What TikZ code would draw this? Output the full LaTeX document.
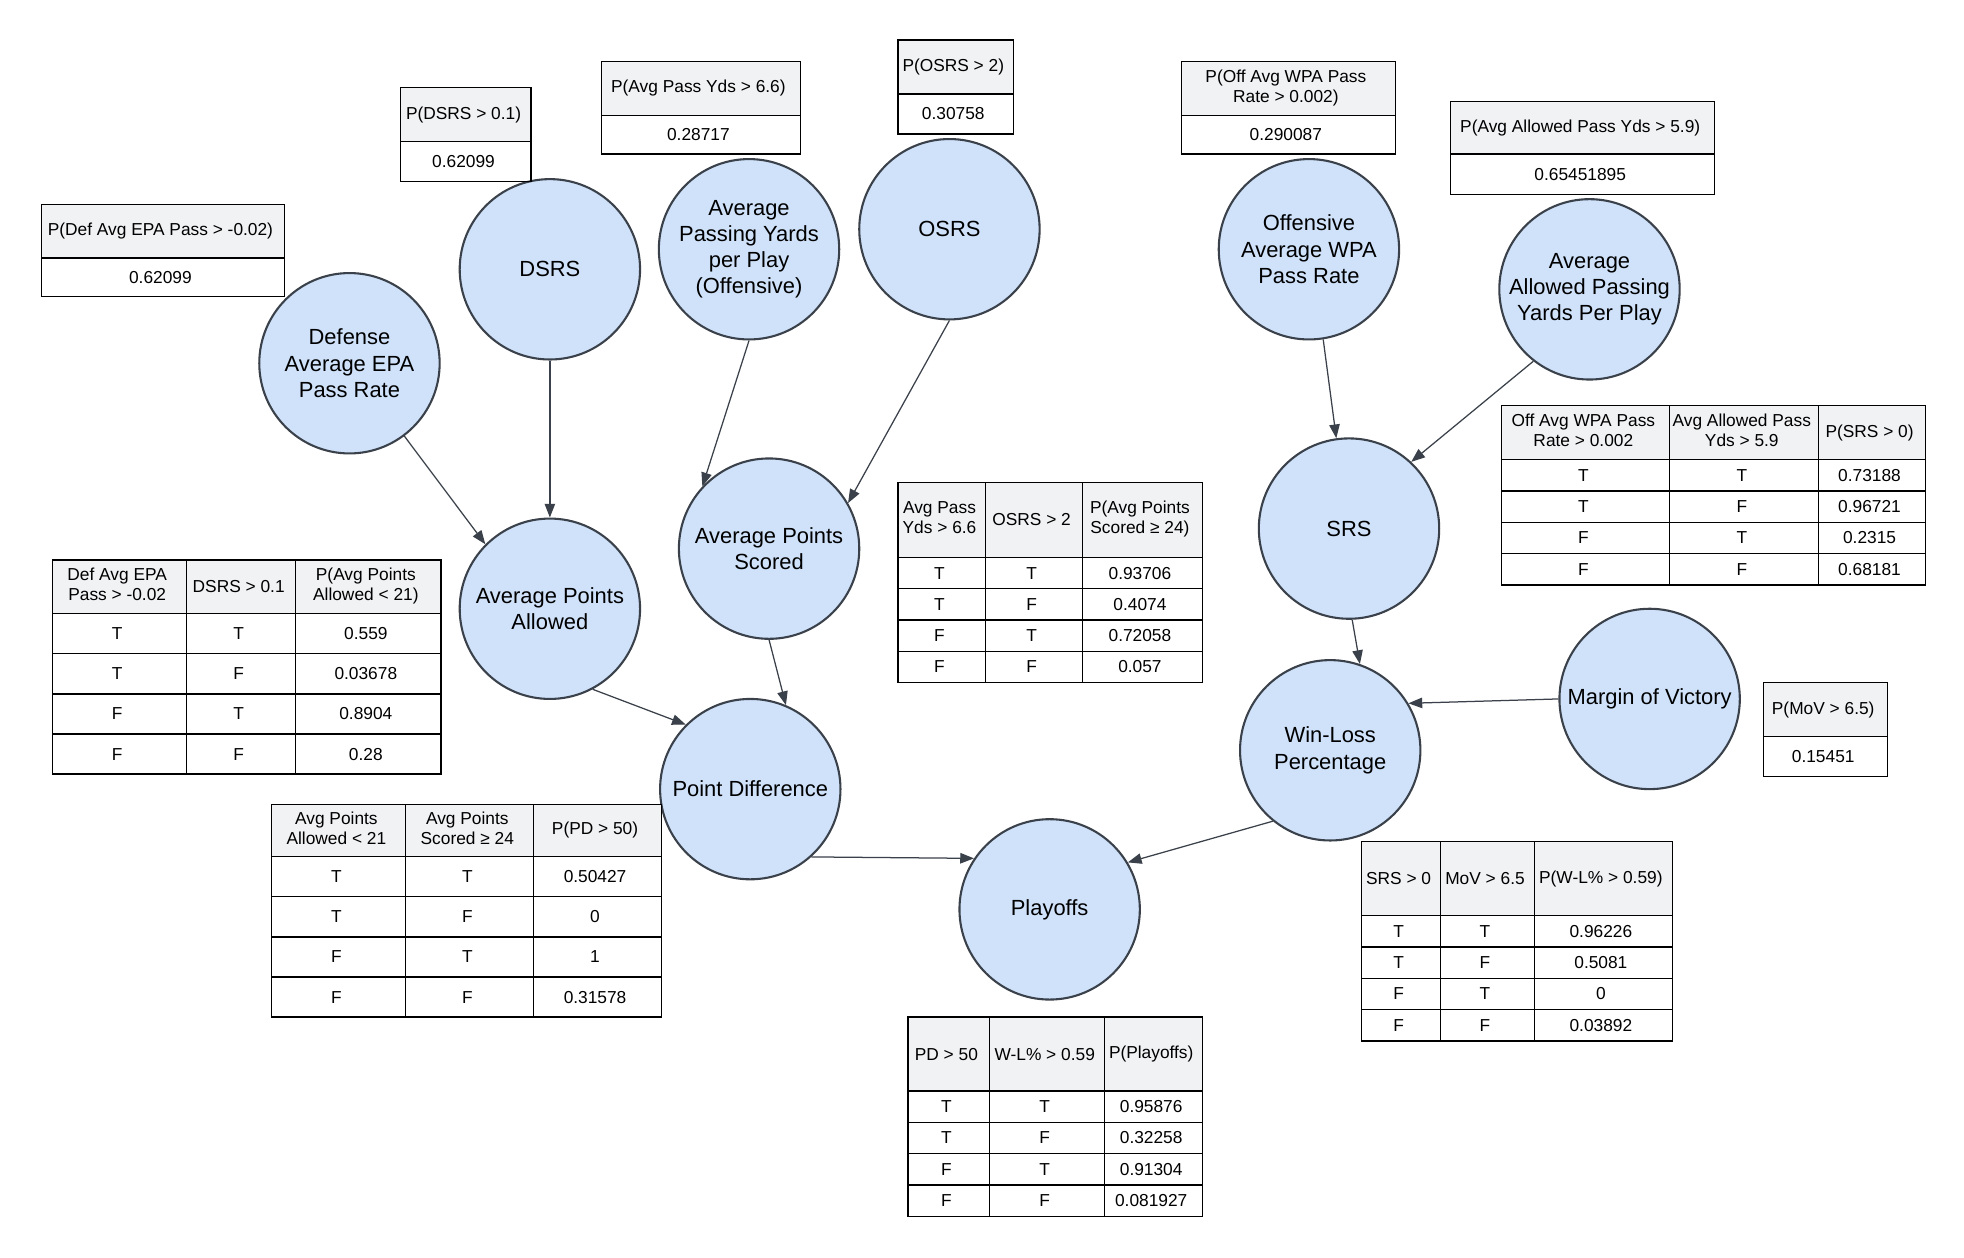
\documentclass[tikz,border=0pt]{standalone}
\usepackage{fontspec}
\setmainfont{Liberation Sans}
\usepackage{tikz}
\usetikzlibrary{shapes}
\usetikzlibrary{arrows.meta}
\usetikzlibrary{matrix}
\newcommand \upx {0.6pt}
\newcommand \cptfont {\fontsize{8.3}{9.6}\selectfont}
\newcommand \rvfont {\fontsize{10.5}{12.6}\selectfont}
\newcommand \twolines [2] {\begin{tabular}{@{}c@{}}#1\\#2\end{tabular}}
\definecolor{rvfill}{HTML}{CFE2FA}
\definecolor{rvline}{HTML}{3A414A}
\definecolor{hdr}{HTML}{F1F2F4}
\tikzstyle{RV}=[circle,draw=rvline,fill=rvfill,line width=1pt,inner sep=0mm,minimum size=144*\upx,align=center,font=\rvfont]
\tikzstyle{cpt}=[matrix of nodes,anchor=north west,inner sep=0pt,row sep=-\pgflinewidth,column sep=-\pgflinewidth,nodes={draw=black,anchor=center,inner sep=1pt,align=center,font=\cptfont,minimum height=25*\upx}]
\tikzstyle{arrow}=[->,>={Triangle[length=6.6pt,width=5pt]},draw=rvline]
\tikzset{hrow/.style={row 1/.style={nodes={fill=hdr,minimum height=#1*\upx}}}}
\tikzset{cols/.style n args={3}{column 1/.style={nodes={minimum width=#1*\upx}},column 2/.style={nodes={minimum width=#2*\upx}},column 3/.style={nodes={minimum width=#3*\upx}}}}
\tikzset{every picture/.style={
    line width=0.6pt
  }
}
\begin{document}
\begin{tikzpicture}[x=\upx,y=-\upx]
          \useasboundingbox (0,0) rectangle (1568,1004);
          \node[RV] at (279,290) (dep) {Defense\\Average EPA\\Pass Rate};
          \node[RV] at (439,215) (dsrs) {DSRS};
          \node[RV] at (598,199) (ypp) {Average\\Passing Yards\\per Play\\(Offensive)};
          \node[RV] at (758,183) (osrs) {OSRS};
          \node[RV] at (439,486) (apa) {Average Points\\Allowed};
          \node[RV] at (614,438) (aps) {Average Points\\Scored};
          \node[RV] at (599,630) (pd) {Point Difference};
          \node[RV] at (838,726) (po) {Playoffs};
          \node[RV] at (1045,199) (wpa) {Offensive\\Average WPA\\Pass Rate};
          \node[RV] at (1269,231) (apy) {Average\\Allowed Passing\\Yards Per Play};
          \node[RV] at (1077,422) (srs) {SRS};
          \node[RV] at (1062,599) (wl) {Win-Loss\\Percentage};
          \node[RV] at (1317,558) (mov) {Margin of Victory};
          \draw[arrow] (dep.-53)--(apa.135);
          \draw[arrow] (dsrs)--(apa);
          \draw[arrow] (ypp.south)--(aps.137);
          \draw[arrow] (osrs.south)--(aps.30);
          \draw[arrow] (apa.-62)--(pd.135);
          \draw[arrow] (aps.south)--(pd.67);
          \draw[arrow] (pd.-48)--(po.146);
          \draw[arrow] (wl.-129)--(po.31);
          \draw[arrow] (wpa.-81)--(srs.98);
          \draw[arrow] (apy.-128)--(srs.47);
          \draw[arrow] (srs.-88)--(wl.71);
          \draw[arrow] (mov.west)--(wl.31);
          \matrix[cpt,hrow=43,nodes={minimum height=31*\upx,minimum width=194*\upx}] (tdep) at (32,162) {
            P(Def Avg EPA Pass > -0.02) \\
            0.62099 \\
          };
          \matrix[cpt,hrow=43,nodes={minimum height=32*\upx,minimum width=104*\upx}] (tdsrs) at (319,69) {
            P(DSRS > 0.1) \\
            0.62099 \\
          };
          \matrix[cpt,hrow=43,nodes={minimum height=31*\upx,minimum width=159*\upx}] (typp) at (479,48) {
            P(Avg Pass Yds > 6.6) \\
            0.28717 \\
          };
          \matrix[cpt,hrow=43,nodes={minimum height=32*\upx,minimum width=92*\upx}] (tosrs) at (716,31) {
            P(OSRS > 2) \\
            0.30758 \\
          };
          \matrix[cpt,hrow=43,nodes={minimum height=31*\upx,minimum width=171*\upx}] (twpa) at (942,48) {
            \twolines{P(Off Avg WPA Pass}{Rate > 0.002)} \\
            0.290087 \\
          };
          \matrix[cpt,hrow=42,nodes={minimum height=32*\upx,minimum width=211*\upx}] (tapy) at (1157,80) {
            P(Avg Allowed Pass Yds > 5.9) \\
            0.65451895 \\
          };
          \matrix[cpt,hrow=43,nodes={minimum height=32*\upx,minimum width=99*\upx}] (tmov) at (1407,544) {
            P(MoV > 6.5) \\
            0.15451 \\
          };
          \matrix[cpt,hrow=43,cols={107}{87}{116},nodes={minimum height=32*\upx}] (tapa) at (41,446) {
            \twolines{Def Avg EPA}{Pass > -0.02} & DSRS > 0.1 & \twolines{P(Avg Points}{Allowed < 21)} \\
            T & T & 0.559 \\
            T & F & 0.03678 \\
            F & T & 0.8904 \\
            F & F & 0.28 \\
          };
          \matrix[cpt,hrow=60,cols={70}{77}{96}] (taps) at (716,384) {
            \twolines{Avg Pass}{Yds > 6.6} & OSRS > 2 & \twolines{P(Avg Points}{Scored ≥ 24)} \\
            T & T & 0.93706 \\
            T & F & 0.4074 \\
            F & T & 0.72058 \\
            F & F & 0.057 \\
          };
          \matrix[cpt,hrow=42,cols={107}{102}{102},nodes={minimum height=32*\upx}] (tpd) at (216,641) {
            \twolines{Avg Points}{Allowed < 21} & \twolines{Avg Points}{Scored ≥ 24} & P(PD > 50) \\
            T & T & 0.50427 \\
            T & F & 0 \\
            F & T & 1 \\
            F & F & 0.31578 \\
          };
          \matrix[cpt,hrow=43,cols={134}{119}{85}] (tsrs) at (1198,323) {
            \twolines{Off Avg WPA Pass}{Rate > 0.002} & \twolines{Avg Allowed Pass}{Yds > 5.9} & P(SRS > 0) \\
            T & T & 0.73188 \\
            T & F & 0.96721 \\
            F & T & 0.2315 \\
            F & F & 0.68181 \\
          };
          \matrix[cpt,hrow=59,cols={63}{75}{110}] (twl) at (1086,671) {
            SRS > 0 & MoV > 6.5 & P(W-L\% > 0.59) \\
            T & T & 0.96226 \\
            T & F & 0.5081 \\
            F & T & 0 \\
            F & F & 0.03892 \\
          };
          \matrix[cpt,hrow=59,cols={65}{92}{78}] (tpo) at (724,811) {
            PD > 50 & W-L\% > 0.59 & P(Playoffs) \\
            T & T & 0.95876 \\
            T & F & 0.32258 \\
            F & T & 0.91304 \\
            F & F & 0.081927 \\
          };
        \end{tikzpicture}
\end{document}
